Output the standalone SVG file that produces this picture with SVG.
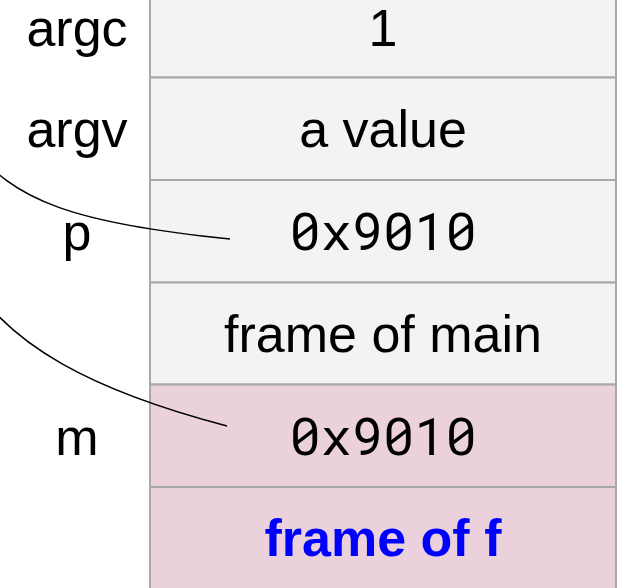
<svg xmlns="http://www.w3.org/2000/svg" width="621" height="588" viewBox="0 0 621 588">
  <style>
    .cell { stroke: #a8a8a8; stroke-width: 2; }
    .main { fill: #f3f3f3; }
    .f { fill: #ead1dc; }
    .lbl { font-family: "Liberation Sans", Arial, sans-serif; font-size: 52px; fill: #000; text-anchor: middle; }
    .mono { font-family: "Roboto Mono", "DejaVu Sans Mono", "Liberation Mono", monospace; font-size: 52px; fill: #000; text-anchor: middle; }
    .bold { font-family: "Liberation Sans", Arial, sans-serif; font-size: 52px; font-weight: bold; fill: #0000ff; text-anchor: middle; }
    .ptr { fill: none; stroke: #000; stroke-width: 1.5; }
  </style>
  <rect width="621" height="588" fill="#ffffff"/>
  <g id="row-argc">
    <rect class="cell main" x="150" y="-25" width="466" height="102.5"/>
    <text class="lbl" x="77" y="46">argc</text>
    <text class="lbl" x="383" y="46">1</text>
  </g>
  <g id="row-argv">
    <rect class="cell main" x="150" y="77.5" width="466" height="102.5"/>
    <text class="lbl" x="77" y="147">argv</text>
    <text class="lbl" x="383" y="147">a value</text>
  </g>
  <g id="row-p">
    <rect class="cell main" x="150" y="180" width="466" height="102.5"/>
    <text class="lbl" x="77" y="250">p</text>
    <text class="mono" x="383" y="250">0x9010</text>
  </g>
  <g id="row-main">
    <rect class="cell main" x="150" y="282.5" width="466" height="102"/>
    <text class="lbl" x="383" y="352">frame of main</text>
  </g>
  <g id="row-m">
    <rect class="cell f" x="150" y="384.5" width="466" height="102.5"/>
    <text class="lbl" x="77" y="455">m</text>
    <text class="mono" x="383" y="455">0x9010</text>
  </g>
  <g id="row-f">
    <rect class="cell f" x="150" y="487" width="466" height="110"/>
    <text class="bold" x="383" y="556">frame of f</text>
  </g>
  <g id="connectors">
    <path class="ptr" d="M -30 142 C 10 202, 80 224, 230 239"/>
    <path class="ptr" d="M -30 280 C 10 345, 90 390, 227 426"/>
  </g>
</svg>
